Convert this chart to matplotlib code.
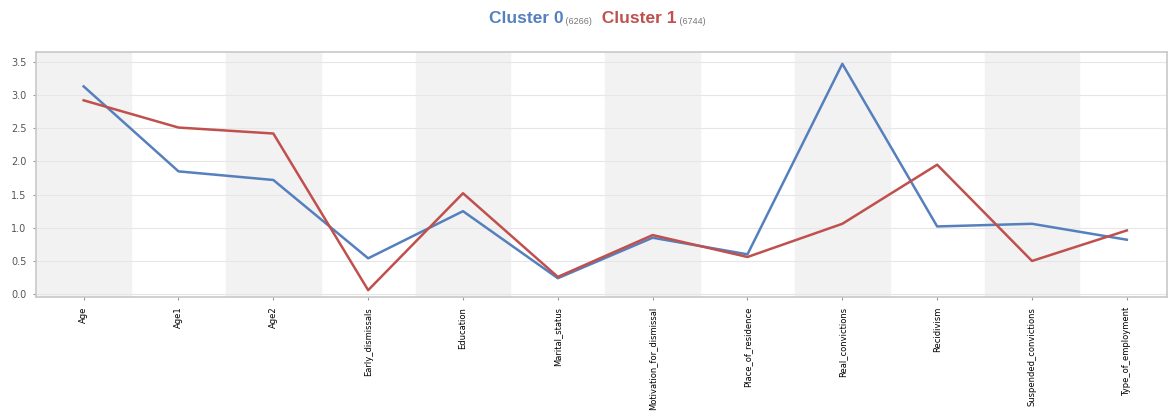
import matplotlib.pyplot as plt
import numpy as np

categories = ['Age', 'Age1', 'Age2', 'Early_dismissals', 'Education', 'Marital_status',
              'Motivation_for_dismissal', 'Place_of_residence', 'Real_convictions',
              'Recidivism', 'Suspended_convictions', 'Type_of_employment']
cluster0 = [3.13, 1.85, 1.72, 0.54, 1.25, 0.24, 0.85, 0.60, 3.47, 1.02, 1.06, 0.82]
cluster1 = [2.92, 2.51, 2.42, 0.06, 1.52, 0.26, 0.89, 0.56, 1.06, 1.95, 0.50, 0.96]
cluster_names = ['Cluster 0', 'Cluster 1']
cluster_sizes = ['(6266)', '(6744)']
colors = ['#5580bd', '#c0504d']

fig = plt.figure(figsize=(11.69, 4.15), dpi=100)
ax = fig.add_axes([0.031, 0.284, 0.967, 0.591])

x = np.arange(len(categories))
for i in range(0, len(categories), 2):  # alternating grey bands
    ax.axvspan(i - 0.5, i + 0.5, color='#f2f2f2', zorder=0)

ax.plot(x, cluster0, color=colors[0], lw=1.8, zorder=3)
ax.plot(x, cluster1, color=colors[1], lw=1.8, zorder=3)

ax.set_xlim(-0.5, 11.42)
ax.set_ylim(-0.045, 3.65)
ax.set_yticks(np.arange(0, 3.6, 0.5))
ax.set_yticklabels(['%.1f' % v for v in np.arange(0, 3.6, 0.5)], fontsize=7, color='#555555')
ax.yaxis.grid(True, color='#e6e6e6', lw=0.8, zorder=1)
ax.set_axisbelow(True)

ax.set_xticks(x)
ax.set_xticklabels(categories, rotation=90, fontsize=6, va='top', ha='center',
                   family=['Liberation Sans Narrow', 'DejaVu Sans'])
ax.tick_params(axis='both', length=2, color='#999999', pad=5)
for s in ax.spines.values():
    s.set_color('#c8c8c8')
    s.set_linewidth(1.2)

# title built from pieces
t = fig.text(0.418, 0.945, cluster_names[0], fontsize=12.5, weight='bold', color=colors[0],
             family='Liberation Sans', va='baseline')
t = ax.annotate(' ' + cluster_sizes[0], xy=(1, 0), xycoords=t, fontsize=6.5, color='#777777',
                va='bottom', family='Liberation Sans')
t = ax.annotate('  ' + cluster_names[1], xy=(1, 0), xycoords=t, fontsize=12.5, weight='bold',
                color=colors[1], va='bottom', family='Liberation Sans')
t = ax.annotate(' ' + cluster_sizes[1], xy=(1, 0), xycoords=t, fontsize=6.5, color='#777777',
                va='bottom', family='Liberation Sans')

fig.savefig('out.png', dpi=100)
